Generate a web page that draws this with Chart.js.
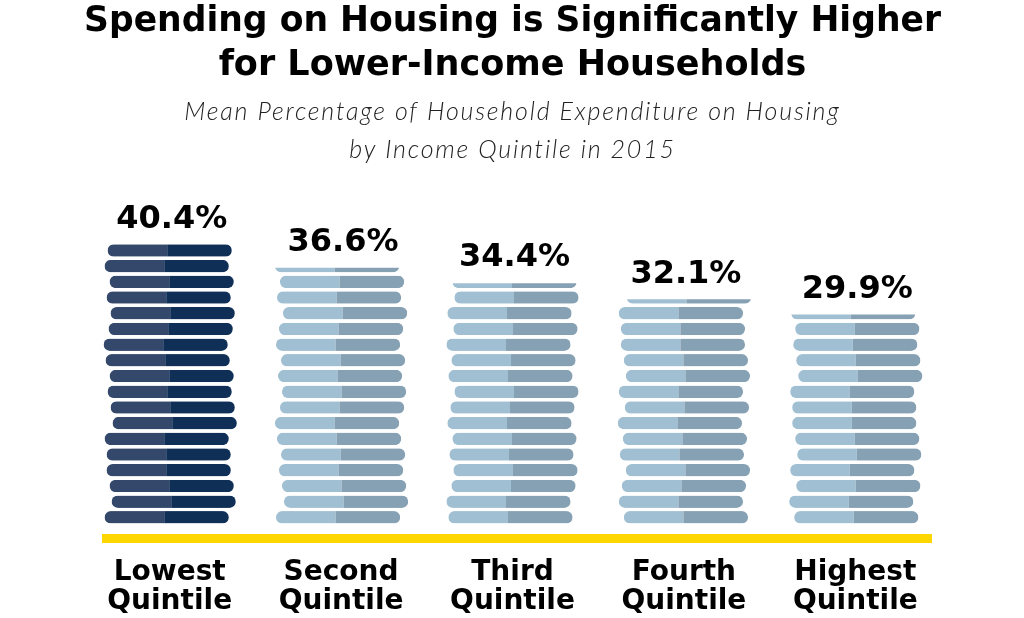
<!DOCTYPE html>
<html>
<head>
<meta charset="utf-8">
<script src="https://cdn.jsdelivr.net/npm/chart.js@4/dist/chart.umd.min.js"></script>
<style>
html,body{margin:0;padding:0;background:#fff;overflow:hidden;}
#wrap{width:1024px;height:618px;position:relative;overflow:hidden;}
</style>
</head>
<body>
<div id="wrap"><canvas id="c" width="1024" height="638"></canvas></div>
<script>
// ---- data ----
const titleLines = ['Spending on Housing is Significantly Higher', 'for Lower-Income Households'];
const subtitleLines = ['Mean Percentage of Household Expenditure on Housing', 'by Income Quintile in 2015'];
const categories = [['Lowest', 'Quintile'], ['Second', 'Quintile'], ['Third', 'Quintile'], ['Fourth', 'Quintile'], ['Highest', 'Quintile']];
const values = [40.4, 36.6, 34.4, 32.1, 29.9];
const valueLabels = ['40.4%', '36.6%', '34.4%', '32.1%', '29.9%'];

// ---- style ----
const JITTER = [-3, 4, 2, -1, -1, -3, 5, 3, 0, 2, -2, -4, 1, 3, -1, 2, -3, 0, 4, -2, 1, -4, 3];
const DARK = ['#33486a', '#0f2f57'];
const LIGHT = ['#a0bfd2', '#86a1b3'];

function pill(ctx, x, y, w, h) {
  const r = h / 2;
  ctx.beginPath();
  ctx.moveTo(x + r, y);
  ctx.lineTo(x + w - r, y);
  ctx.arc(x + w - r, y + r, r, -Math.PI / 2, Math.PI / 2);
  ctx.lineTo(x + r, y + h);
  ctx.arc(x + r, y + r, r, Math.PI / 2, Math.PI * 1.5);
  ctx.closePath();
}

const spacingPlugin = {
  id: 'subtitleSpacing',
  beforeDraw(chart) {
    chart.boxes.forEach(b => {
      if (b._wrapped) return;
      const t = b.options && b.options.text;
      if (Array.isArray(t) && t[0] === subtitleLines[0]) {
        const orig = b.draw.bind(b);
        b.draw = function (area) {
          const ctx = chart.ctx;
          const prev = ctx.letterSpacing;
          ctx.letterSpacing = '1.8px';
          orig(area);
          ctx.letterSpacing = prev || '0px';
        };
        b._wrapped = true;
      }
    });
  }
};

const coinPlugin = {
  id: 'coins',
  afterDatasetsDraw(chart) {
    const ctx = chart.ctx;
    const area = chart.chartArea;
    ctx.save();
    ctx.fillStyle = '#ffd700';
    ctx.fillRect(area.left + 18, area.bottom - 4.5, area.right - area.left - 27, 9);
    ctx.restore();
    const meta = chart.getDatasetMeta(0);
    meta.data.forEach((bar, i) => {
      const p = bar.getProps(['x', 'y', 'base', 'width'], true);
      const pitch = 15.7, h = 12.5;
      const cols = i === 0 ? DARK : LIGHT;
      let drawnTop = p.base;
      for (let k = 0; k < 60; k++) {
        const cb = p.base - k * pitch;
        const ct = cb - h;
        if (cb <= p.y + 2) break;
        const off = JITTER[(k + i * 5) % JITTER.length];
        const left = p.x - p.width / 2 + off;
        const visTop = Math.max(ct, p.y);
        ctx.save();
        ctx.beginPath();
        ctx.rect(left - 2, visTop, p.width + 4, cb - visTop);
        ctx.clip();
        pill(ctx, left, ct, p.width, h);
        ctx.clip();
        const split = p.width * 0.48;
        ctx.fillStyle = cols[0];
        ctx.fillRect(left, ct, split, h);
        ctx.fillStyle = cols[1];
        ctx.fillRect(left + split, ct, p.width - split, h);
        ctx.restore();
        drawnTop = visTop;
      }
      ctx.save();
      ctx.fillStyle = '#000';
      ctx.font = 'bold 32px "DejaVu Sans"';
      ctx.textAlign = 'center';
      ctx.textBaseline = 'middle';
      ctx.fillText(valueLabels[i], p.x + 2, drawnTop - 25);
      ctx.restore();
    });
  }
};

new Chart(document.getElementById('c'), {
  type: 'bar',
  data: {
    labels: categories,
    datasets: [{
      data: values,
      backgroundColor: 'rgba(0,0,0,0)',
      borderWidth: 0,
      barPercentage: 0.725,
      categoryPercentage: 1.0
    }]
  },
  options: {
    responsive: false,
    animation: false,
    devicePixelRatio: 1,
    layout: { padding: { left: 84, right: 83, top: 0, bottom: 2.5 } },
    plugins: {
      legend: { display: false },
      tooltip: { enabled: false },
      title: {
        display: true,
        text: titleLines,
        color: '#000',
        font: { family: '"DejaVu Sans"', weight: 'bold', size: 35, lineHeight: '44px' },
        padding: { top: 0, bottom: 5 }
      },
      subtitle: {
        display: true,
        text: subtitleLines,
        color: '#222',
        font: { family: 'Lato', style: 'italic', weight: 300, size: 25, lineHeight: '38px' },
        padding: { top: 0, bottom: 61 }
      }
    },
    scales: {
      x: {
        grid: { display: false, drawTicks: false },
        border: { display: false },
        ticks: {
          color: '#000',
          padding: 19.5,
          maxRotation: 0,
          autoSkip: false,
          font: { family: '"DejaVu Sans"', weight: 'bold', size: 28, lineHeight: '29px' }
        }
      },
      y: {
        display: false,
        min: -2.13,
        max: 42
      }
    }
  },
  plugins: [spacingPlugin, coinPlugin]
});
</script>
</body>
</html>
